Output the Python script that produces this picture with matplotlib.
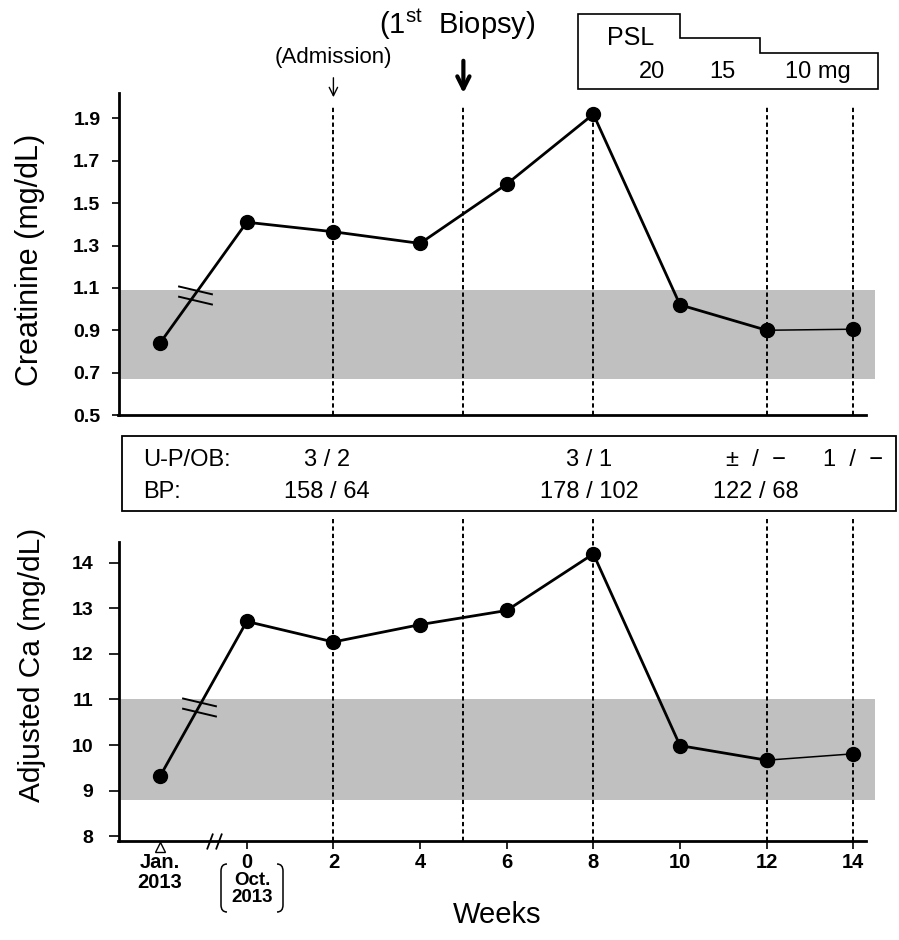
import matplotlib.pyplot as plt
import matplotlib.transforms as mtransforms
from matplotlib.path import Path
from matplotlib.patches import PathPatch, Rectangle

plt.rcParams['font.family'] = ['Liberation Sans', 'DejaVu Sans']
plt.rcParams['mathtext.fontset'] = 'custom'
plt.rcParams['mathtext.rm'] = 'Liberation Sans'

# Jan. 2013 is drawn two "weeks" left of week 0 (broken axis)
weeks = [-2, 0, 2, 4, 6, 8, 10, 12, 14]
creatinine = [0.84, 1.41, 1.365, 1.31, 1.59, 1.92, 1.02, 0.90, 0.905]
calcium = [9.32, 12.71, 12.26, 12.64, 12.95, 14.19, 9.99, 9.67, 9.81]

cre_normal = (0.67, 1.09)
ca_normal = (8.8, 11.0)

event_weeks = [2, 5, 8, 12, 14]

cre_ticks = [0.5, 0.7, 0.9, 1.1, 1.3, 1.5, 1.7, 1.9]
ca_ticks = [8, 9, 10, 11, 12, 13, 14]
week_ticks = [0, 2, 4, 6, 8, 10, 12, 14]

# urine protein / occult blood and blood pressure
table_pos = [1.85, 7.9, 11.75, 14.0]
upob = ['3 / 2', '3 / 1', '±  /  −', '1  /  −']
bp = ['158 / 64', '178 / 102', '122 / 68', '']

# prednisolone taper
psl_doses = ['20', '15', '10 mg']
psl_dose_pos = [9.35, 10.97, 13.19]
psl_change = [10, 11.85]
psl_box = (7.65, 14.57)

W, H = 899, 940
fig = plt.figure(figsize=(W / 100, H / 100), dpi=100)


def fx(p):
    return p / W


def fy(p):
    return 1 - p / H


ax1 = fig.add_axes([fx(118.5), fy(415), fx(875) - fx(118.5), (415 - 93) / H])
ax2 = fig.add_axes([fx(118.5), fy(841), fx(875) - fx(118.5), (841 - 542) / H])

XMIN, XMAX = -2.96, 14.5
dash = (0, (2.2, 1.6))


def style(ax, ylim, ticks, fmt, tlen, tpad):
    ax.set_xlim(XMIN, XMAX)
    ax.set_ylim(*ylim)
    for s in ['top', 'right']:
        ax.spines[s].set_visible(False)
    for s in ['left', 'bottom']:
        ax.spines[s].set_linewidth(2)
    ax.spines['bottom'].set_bounds(XMIN, 14.3)
    ax.set_yticks(ticks)
    ax.set_yticklabels([fmt.format(t) for t in ticks], fontweight='bold', fontsize=14)
    ax.tick_params(axis='y', length=tlen, width=1.2, pad=tpad)


style(ax1, (0.5, 2.02), cre_ticks, '{:.1f}', 5, 8)
style(ax2, (7.9, 14.45), ca_ticks, '{:d}', 7, 11)

ax1.set_xticks([])
ax2.set_xticks(week_ticks)
ax2.set_xticklabels([str(w) for w in week_ticks], fontweight='bold', fontsize=14.5)
ax2.tick_params(axis='x', length=6, width=1.2, pad=3)

# normal ranges
ax1.axhspan(*cre_normal, color='#c0c0c0', lw=0, zorder=0)
ax2.axhspan(*ca_normal, color='#c0c0c0', lw=0, zorder=0)

# event lines
ax1.vlines(event_weeks, 0.5, 1.96, colors='k', linestyles=dash, lw=1.4, zorder=1)
ax2.vlines(event_weeks, 7.9, 15.0, colors='k', linestyles=dash, lw=1.4, zorder=1,
           clip_on=False)

brk = Path([(-17, 9), (17, 1), (-17, -1), (17, -9)],
           [Path.MOVETO, Path.LINETO, Path.MOVETO, Path.LINETO])
slash = Path([(-7.5, -8), (-1.5, 8), (1.5, -8), (7.5, 8)],
             [Path.MOVETO, Path.LINETO, Path.MOVETO, Path.LINETO])

for ax, vals, frac in [(ax1, creatinine, 0.4), (ax2, calcium, 0.45)]:
    ax.plot(weeks[:-1], vals[:-1], 'k-', lw=2, marker='o', ms=10, zorder=3)
    ax.plot(weeks[-2:], vals[-2:], 'k-', lw=1.1, marker='o', ms=10, zorder=3)
    bx = weeks[0] + frac * (weeks[1] - weeks[0])
    by = vals[0] + frac * (vals[1] - vals[0])
    ax.plot(bx, by, marker=brk, ms=25, mew=1.4, mec='k', mfc='none', ls='none', zorder=4)

xax = ax2.get_xaxis_transform()
tb = mtransforms.blended_transform_factory(ax2.transData, fig.transFigure)
ax2.plot(-0.75, 0, marker=slash, ms=11.5, mew=1.3, mec='k', mfc='none', ls='none',
         transform=xax, clip_on=False)
ax2.plot(-2, fy(847), marker='^', ms=6.5, mew=1, mec='k', mfc='none', ls='none',
         transform=tb, clip_on=False)
ax2.text(-2, fy(853), 'Jan.\n2013', transform=tb, ha='center', va='top',
         fontweight='bold', fontsize=14.5, linespacing=1.1)
fig.text(fx(252), fy(872), 'Oct.\n2013', ha='center', va='top',
         fontweight='bold', fontsize=13.5, linespacing=1.0)

# bracket round "Oct. 2013"
for x0, s in [(221, 1), (283, -1)]:
    verts = [(x0 + 6 * s, 864), (x0, 864), (x0, 871), (x0, 905), (x0, 912), (x0 + 6 * s, 912)]
    codes = [Path.MOVETO, Path.CURVE3, Path.CURVE3, Path.LINETO, Path.CURVE3, Path.CURVE3]
    fig.add_artist(PathPatch(Path([(fx(a), fy(b)) for a, b in verts], codes),
                             transform=fig.transFigure, fill=False, lw=1.1))

fig.text(fx(497), fy(915), 'Weeks', ha='center', va='center', fontsize=21)
fig.text(fx(30), fy(260), 'Creatinine (mg/dL)', rotation=90, ha='center', va='center',
         fontsize=22)
fig.text(fx(32), fy(665), 'Adjusted Ca (mg/dL)', rotation=90, ha='center', va='center',
         fontsize=21.5)

# U-P/OB and BP table
fig.add_artist(Rectangle((fx(122), fy(511)), fx(896) - fx(122), (511 - 436) / H,
                         transform=fig.transFigure, fill=False, lw=1.3))
fig.text(fx(143), fy(460), 'U-P/OB:', va='center', fontsize=17)
fig.text(fx(143), fy(492), 'BP:', va='center', fontsize=17)
for p, a, b in zip(table_pos, upob, bp):
    fig.text(p, fy(460), a, transform=tb, ha='center', va='center', fontsize=17)
    fig.text(p, fy(492), b, transform=tb, ha='center', va='center', fontsize=17)

# PSL box
tt = mtransforms.blended_transform_factory(ax1.transData, fig.transFigure)
l, r = psl_box
c1, c2 = psl_change
verts = [(l, fy(14)), (c1, fy(14)), (c1, fy(38)), (c2, fy(38)), (c2, fy(53)),
         (r, fy(53)), (r, fy(89)), (l, fy(89)), (l, fy(14))]
fig.add_artist(PathPatch(Path(verts, closed=True), transform=tt, fill=False, lw=1.2))
fig.text(8.32, fy(38), 'PSL', transform=tt, va='center', fontsize=18)
for p, d in zip(psl_dose_pos, psl_doses):
    fig.text(p, fy(72), d, transform=tt, ha='center', va='center', fontsize=17)

# admission and biopsy
fig.text(2, fy(58), '(Admission)', transform=tt, ha='center', va='center', fontsize=16)
ax1.annotate('', xy=(2, fy(100)), xytext=(2, fy(75)), xycoords=tt, textcoords=tt,
             arrowprops=dict(arrowstyle='->', lw=1, mutation_scale=15), annotation_clip=False)
fig.text(4.85, fy(24), r'(1$^{\mathrm{st}}$  Biopsy)', transform=tt, ha='center',
         va='center', fontsize=21)
ax1.annotate('', xy=(5, fy(96)), xytext=(5, fy(58)), xycoords=tt, textcoords=tt,
             arrowprops=dict(arrowstyle='->', lw=3, mutation_scale=22), annotation_clip=False)

fig.savefig('out.png', dpi=100)
